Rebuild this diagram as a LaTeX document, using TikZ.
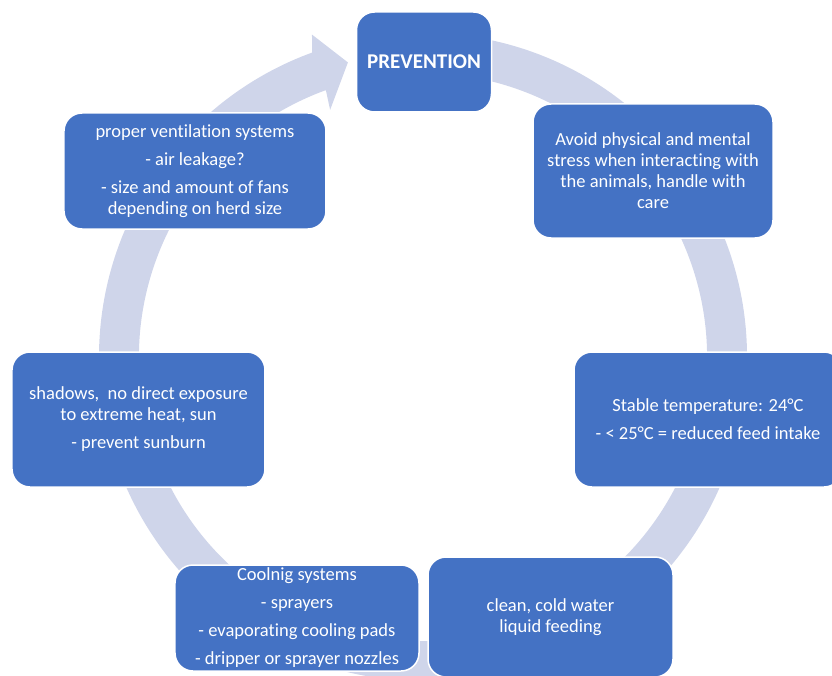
\documentclass[tikz,border=0pt]{standalone}
\usepackage{fontspec}
\setmainfont{Carlito}[Ligatures=NoCommon]
\definecolor{boxblue}{HTML}{4472C4}
\definecolor{ringblue}{HTML}{CFD5EA}

\begin{document}
\begin{tikzpicture}[x=1pt,y=1pt]
       \tikzstyle{every node}=[font=\fontsize{18.5}{21}\selectfont]
       \tikzstyle{stage}=[rectangle, rounded corners=18pt, draw=white,
              line width=1.5pt, fill=boxblue, text=white, align=center,
              inner sep=0pt]

   \useasboundingbox (-423,-318) rectangle (409,357);
   \clip (-423,-318) rectangle (409,357);

% ring with the arrow head into the top box
   \fill[ringblue] (85:324) arc[start angle=85, end angle=-250, radius=324]
       -- (-251:341) -- (-255.7:304) -- (-249.4:264)
       -- (-250:284) arc[start angle=-250, end angle=85, radius=284] -- cycle;

% top
   \node[stage, minimum width=135, minimum height=100,
         font=\fontsize{21}{24}\selectfont\bfseries] (prevention) at (1,295)
      {PREVENTION};

% handling
   \node[stage, minimum width=240, minimum height=134] (stress) at (230,186)
      {Avoid physical and mental\\ stress when interacting with\\
       the animals, handle with\\ care};

% temperature
   \node[stage, minimum width=268, minimum height=135] (temp) at (285,-62.5)
      {Stable temperature: 24°C\\[7pt] - < 25°C = reduced feed intake};

% water
   \node[stage, minimum width=245, minimum height=120] (water) at (127.5,-260)
      {clean, cold water\\ liquid feeding};

% cooling
   \node[stage, minimum width=244, minimum height=106] (cooling) at (-126,-261)
      {Coolnig systems\\[7pt] - sprayers\\[7pt] - evaporating cooling pads\\[7pt]
       - dripper or sprayer nozzles};

% shade
   \node[stage, minimum width=253, minimum height=135] (shade) at (-284.5,-62.5)
      {shadows,\ \ no direct exposure\\ to extreme heat, sun\\[7pt] - prevent sunburn};

% ventilation
   \node[stage, minimum width=262, minimum height=116] (ventilation) at (-228,186)
      {proper ventilation systems\\[7pt] - air leakage?\\[7pt]
       - size and amount of fans\\ depending on herd size};

\end{tikzpicture}
\end{document}
